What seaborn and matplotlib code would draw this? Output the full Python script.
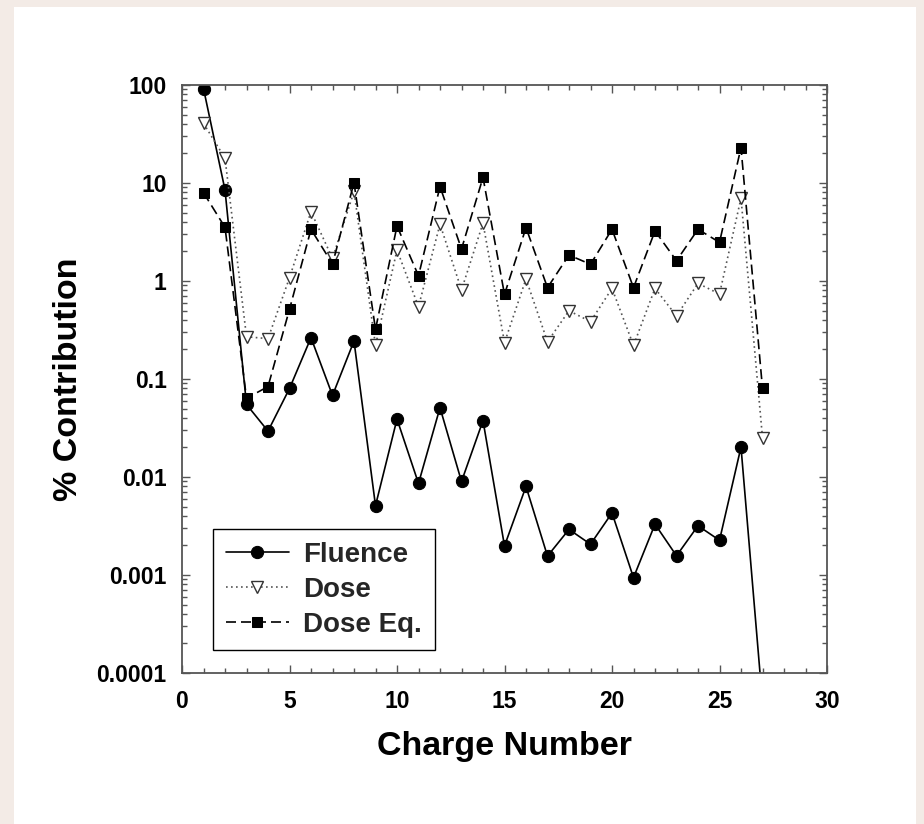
import numpy as np
import pandas as pd
import matplotlib
matplotlib.use("Agg")
import matplotlib.pyplot as plt
import matplotlib.ticker as mticker
from matplotlib.patches import Rectangle
import seaborn as sns

# ---- data ----
charge = list(range(1, 28))
fluence = [92, 8.5, 0.055, 0.0294, 0.080, 0.264, 0.068, 0.244, 0.0051, 0.039,
           0.0086, 0.051, 0.0090, 0.0376, 0.00198, 0.0080, 0.00156, 0.00292,
           0.00206, 0.0043, 0.00094, 0.0033, 0.00157, 0.00318, 0.00226, 0.0202,
           0.00005]
dose = [40.6, 17.9, 0.27, 0.258, 1.08, 5.1, 1.7, 8.2, 0.22, 2.07, 0.547, 3.8,
        0.81, 3.9, 0.235, 1.05, 0.24, 0.497, 0.385, 0.84, 0.22, 0.84, 0.44,
        0.946, 0.736, 7.0, 0.0252]
dose_eq = [7.96, 3.53, 0.0636, 0.0836, 0.514, 3.37, 1.49, 10.07, 0.321, 3.64,
           1.13, 9.2, 2.12, 11.4, 0.73, 3.5, 0.855, 1.84, 1.48, 3.37, 0.855,
           3.24, 1.61, 3.37, 2.48, 23.0, 0.080]
series_names = ["Fluence", "Dose", "Dose Eq."]
y_ticks = [0.0001, 0.001, 0.01, 0.1, 1, 10, 100]
y_tick_labels = ["0.0001", "0.001", "0.01", "0.1", "1", "10", "100"]
x_ticks = [0, 5, 10, 15, 20, 25, 30]

sns.set_theme(style="white")
plt.rcParams["font.family"] = ["Liberation Sans", "DejaVu Sans"]
plt.rcParams["font.weight"] = "bold"

W, H = 924, 824
fig = plt.figure(figsize=(W / 100, H / 100), dpi=100)
fig.patch.set_facecolor("#F3EBE6")
fig.add_artist(Rectangle((14 / W, 0), (916 - 14) / W, (H - 7) / H,
                         transform=fig.transFigure, facecolor="white",
                         edgecolor="none", zorder=0))

ax = fig.add_axes([182 / W, (H - 673) / H, (827 - 182) / W, (673 - 85) / H])
ax.set_facecolor("white")

sns.lineplot(x=charge, y=fluence, ax=ax, color="black", linewidth=1.2,
             linestyle="-", marker="o", markersize=8.8, markeredgecolor="black",
             markerfacecolor="black", label=series_names[0])
sns.lineplot(x=charge, y=dose, ax=ax, color="#555555", linewidth=1.2,
             linestyle=(0, (1, 2)), marker="v", markersize=8,
             markeredgecolor="#333333", markerfacecolor="white",
             markeredgewidth=1.0, label=series_names[1])
sns.lineplot(x=charge, y=dose_eq, ax=ax, color="black", linewidth=1.2,
             linestyle=(0, (6, 3)), marker="s", markersize=7,
             markeredgecolor="black", markerfacecolor="black",
             label=series_names[2])

ax.set_yscale("log")
ax.set_xlim(0, 30)
ax.set_ylim(0.0001, 100)

ax.xaxis.set_major_locator(mticker.FixedLocator(x_ticks))
ax.xaxis.set_minor_locator(mticker.MultipleLocator(1))
ax.yaxis.set_major_locator(mticker.FixedLocator(y_ticks))
ax.yaxis.set_major_formatter(mticker.FixedFormatter(y_tick_labels))
ax.yaxis.set_minor_locator(mticker.LogLocator(base=10, subs=np.arange(2, 10)))
ax.yaxis.set_minor_formatter(mticker.NullFormatter())

frame_color = "#555555"
for s in ax.spines.values():
    s.set_color(frame_color)
    s.set_linewidth(1.3)
ax.tick_params(which="both", direction="in", top=True, right=True,
               bottom=True, left=True, color=frame_color, width=1.0)
ax.tick_params(which="major", length=6, labelsize=16.5, labelcolor="black")
ax.tick_params(axis="y", which="major", pad=11)
ax.tick_params(axis="x", which="major", pad=12)
ax.tick_params(which="minor", length=3.5)
for lab in ax.get_xticklabels() + ax.get_yticklabels():
    lab.set_fontweight("bold")

ax.set_xlabel("Charge Number", fontsize=24.5, fontweight="bold", labelpad=13,
              color="black")
ax.set_ylabel("% Contribution", fontsize=24.5, fontweight="bold", labelpad=9,
              color="black")

leg = ax.legend(loc="lower left", bbox_to_anchor=((213 - 182) / 645, (673 - 650) / 588),
                frameon=True, fancybox=False, framealpha=1, edgecolor="black",
                prop={"size": 20, "weight": "bold"}, handlelength=2.3,
                borderpad=0.45, labelspacing=0.32, handletextpad=0.5,
                borderaxespad=0)
leg.get_frame().set_linewidth(1.0)

fig.savefig("out.png", dpi=100, facecolor=fig.get_facecolor())
